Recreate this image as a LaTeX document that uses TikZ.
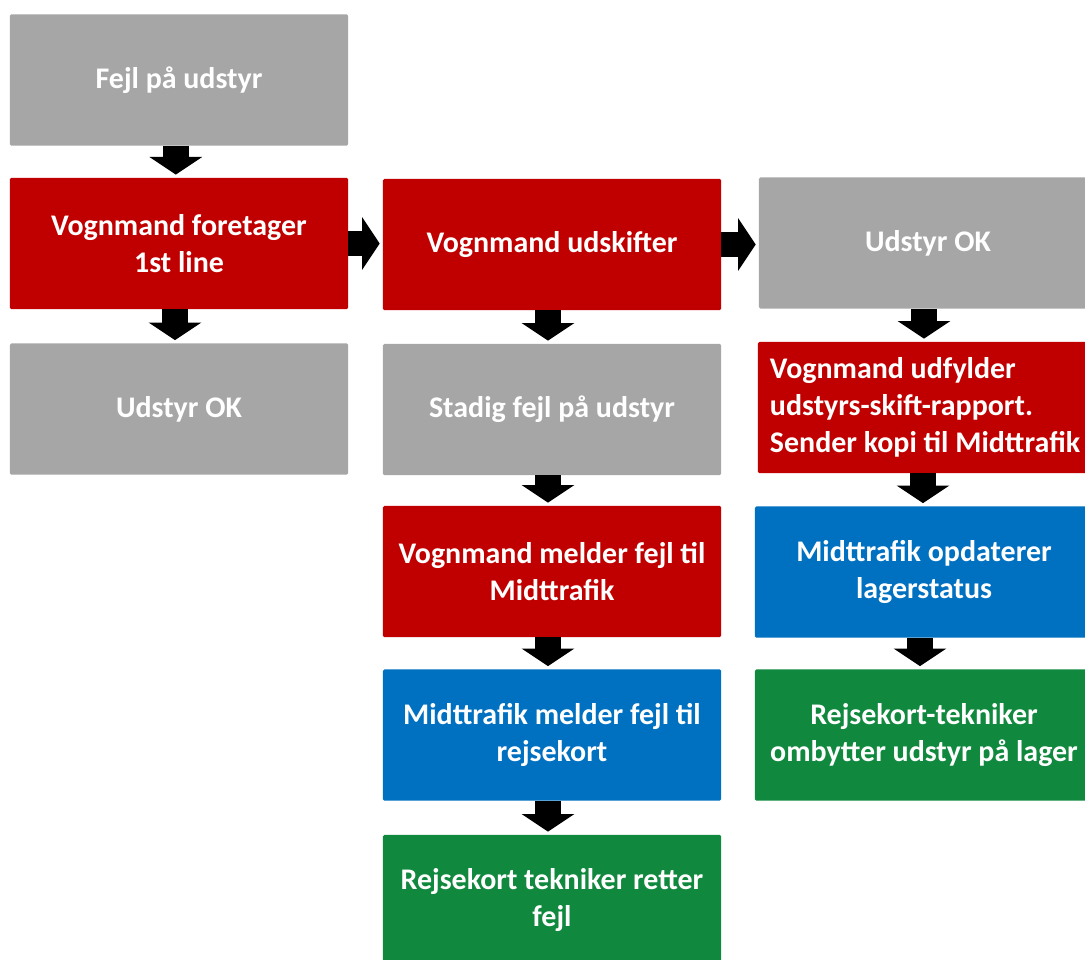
\documentclass[tikz,border=0pt]{standalone}
\usepackage{fontspec}
\setmainfont{Carlito}
\usepackage{tikz}
\usetikzlibrary{arrows.meta, positioning}
\definecolor{BoxGray}{HTML}{A6A6A6}
\definecolor{BoxRed}{HTML}{C00000}
\definecolor{BoxBlue}{HTML}{0070C0}
\definecolor{BoxGreen}{HTML}{10893E}

\begin{document}
\begin{tikzpicture}[x=0.025cm, y=-0.025cm,
    stepbox/.style={rectangle, rounded corners=1pt, draw=none, text=white,
        minimum width=8.45cm, minimum height=3.28cm, align=center,
        font=\fontsize{21.3}{26.3}\selectfont\bfseries},
    graybox/.style={stepbox, fill=BoxGray},
    redbox/.style={stepbox, fill=BoxRed},
    bluebox/.style={stepbox, fill=BoxBlue},
    greenbox/.style={stepbox, fill=BoxGreen},
    blockarrow/.style={line width=0.64cm, black, shorten >=0.075cm,
        -{Triangle[length=0.44cm, width=1.3cm]}}]
        % Canvas
        \useasboundingbox (0,0) rectangle (1085,960);

        % 1. Left column
        \node[graybox] (fejl) at (179, 80) {Fejl på udstyr};
        \node[redbox] (first) at (179, 243.5) {Vognmand foretager\\1st line};
        \node[graybox] (okA) at (179, 409) {Udstyr OK};

        % 2. Middle column
        \node[redbox] (skift) at (552, 244.5) {Vognmand udskifter};
        \node[graybox] (stadig) at (552, 409.5) {Stadig fejl på udstyr};
        \node[redbox] (melder) at (552, 571.5) {Vognmand melder fejl til\\Midttrafik};
        \node[bluebox] (mtmeld) at (552, 735) {Midttrafik melder fejl til\\rejsekort};
        \node[greenbox] (retter) at (552, 900.5) {Rejsekort tekniker retter\\fejl};

        % 3. Right column
        \node[graybox] (okB) at (928, 243) {Udstyr OK};
        \node[redbox, align=flush left, text width=7.85cm] (rapport) at (927, 407.5)
            {Vognmand udfylder\\udstyrs-skift-rapport.\\Sender kopi til Midttrafik};
        \node[bluebox] (lager) at (924, 572) {Midttrafik opdaterer\\lagerstatus};
        \node[greenbox] (ombyt) at (924, 735) {Rejsekort-tekniker\\ombytter udstyr på lager};

        % 4. Block arrows
        \draw[blockarrow] ([xshift=-0.08cm]fejl.south) -- ([xshift=-0.08cm]fejl.south |- first.north);
        \draw[blockarrow] ([xshift=-0.1cm]first.south) -- ([xshift=-0.1cm]first.south |- okA.north);
        \draw[blockarrow] (first.east) -- (first.east -| skift.west);
        \draw[blockarrow] (skift.east) -- (skift.east -| okB.west);
        \foreach \a/\b in {skift/stadig, stadig/melder, melder/mtmeld, mtmeld/retter,
                           okB/rapport, rapport/lager, lager/ombyt} {
            \draw[blockarrow] ([xshift=-0.1cm]\a.south) -- ([xshift=-0.1cm]\a.south |- \b.north);
        }

    \end{tikzpicture}
\end{document}
